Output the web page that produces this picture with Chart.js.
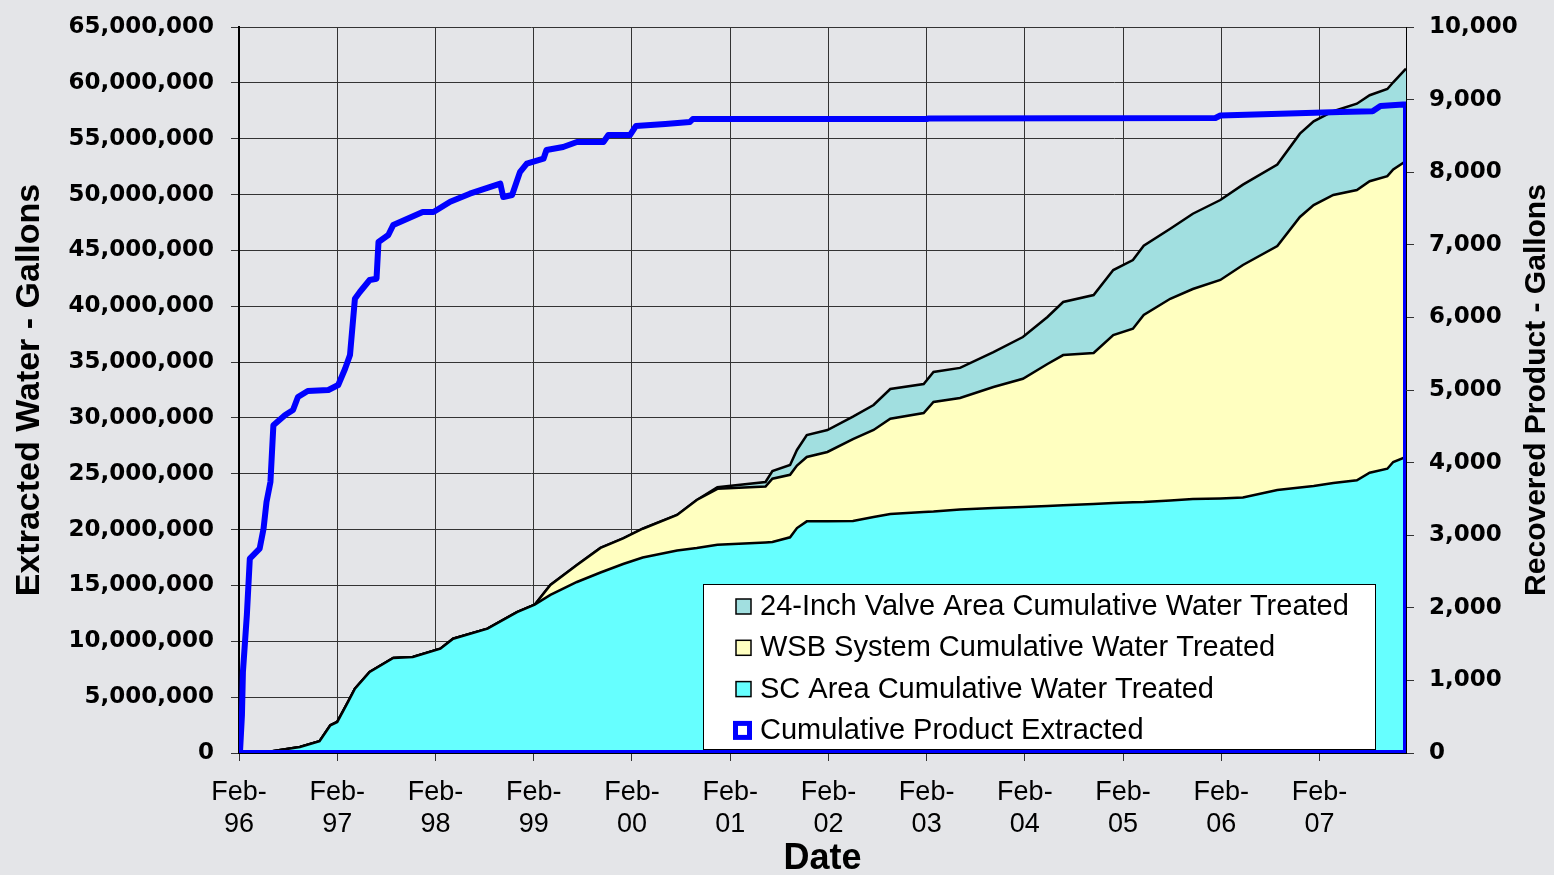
<!DOCTYPE html>
<html lang="en">
<head>
  <meta charset="UTF-8">
  <title>Extracted Water and Recovered Product</title>
  <script src="https://cdn.jsdelivr.net/npm/chart.js"></script>
  <style>
    body {
      margin: 0;
      background: #e4e5e8;
    }
    #wrap {
      width: 1554px;
      height: 875px;
    }
  </style>
</head>
<body>
<div id="wrap"><canvas id="chart" width="1554" height="875"></canvas></div>

<script>
  // Dates as decimal years (Feb-96 = 1996.08)
  const dates = [1996.08, 1996.37, 1996.70, 1996.90, 1997.01, 1997.08, 1997.19, 1997.26, 1997.41, 1997.65,
    1997.85, 1998.13, 1998.26, 1998.61, 1998.91, 1999.09, 1999.25, 1999.52, 1999.76, 1999.99,
    2000.19, 2000.54, 2000.74, 2000.95, 2001.44, 2001.51, 2001.69, 2001.76, 2001.86, 2002.07,
    2002.33, 2002.54, 2002.71, 2003.05, 2003.15, 2003.42, 2003.76, 2004.06, 2004.31, 2004.47,
    2004.78, 2004.98, 2005.18, 2005.29, 2005.56, 2005.79, 2006.07, 2006.30, 2006.65, 2006.88,
    2007.02, 2007.22, 2007.46, 2007.59, 2007.77, 2007.83, 2007.96];

  // cumulative water treated, millions of gallons
  const scArea = [0, 0.09, 0.54, 1.05, 2.48, 2.78, 4.57, 5.76, 7.25, 8.51,
    8.59, 9.34, 10.23, 11.13, 12.62, 13.28, 14.15, 15.31, 16.16, 16.92,
    17.50, 18.13, 18.35, 18.65, 18.85, 18.89, 19.31, 20.14, 20.74, 20.74,
    20.77, 21.13, 21.40, 21.58, 21.62, 21.80, 21.93, 22.02, 22.11, 22.18,
    22.29, 22.38, 22.45, 22.47, 22.61, 22.74, 22.79, 22.87, 23.55, 23.77,
    23.90, 24.17, 24.41, 25.09, 25.45, 26.05, 26.50];

  const wsbSystem = [0, 0, 0, 0, 0, 0, 0, 0, 0, 0,
    0, 0, 0, 0, 0, 0, 0.89, 1.52, 2.20, 2.30,
    2.58, 3.18, 4.30, 5.00, 5.00, 5.67, 5.60, 5.60, 5.76, 6.21,
    7.34, 7.79, 8.53, 8.86, 9.81, 9.98, 10.84, 11.49, 12.72, 13.45,
    13.52, 15.04, 15.54, 16.74, 18.06, 18.80, 19.56, 20.82, 21.84, 24.22,
    25.16, 25.79, 26.00, 26.10, 26.20, 26.20, 26.50];

  const valveArea = [0, 0, 0, 0, 0, 0, 0, 0, 0, 0,
    0, 0, 0, 0, 0, 0, 0, 0, 0, 0,
    0, 0, 0, 0.15, 0.41, 0.69, 0.87, 1.39, 1.97, 1.97,
    2.00, 2.24, 2.66, 2.60, 2.68, 2.70, 3.13, 3.73, 4.21, 4.75,
    5.19, 5.82, 6.15, 6.20, 6.27, 6.74, 7.16, 7.20, 7.30, 7.46,
    7.50, 7.50, 7.72, 7.70, 7.80, 7.80, 8.27];

  // cumulative product, gallons (line returns along the axis at the end)
  const productDates = [1996.08, 1996.09, 1996.11, 1996.12, 1996.16, 1996.19, 1996.29, 1996.33, 1996.36, 1996.40,
    1996.43, 1996.55, 1996.63, 1996.68, 1996.78, 1996.99, 1997.09, 1997.16, 1997.21, 1997.26,
    1997.31, 1997.41, 1997.48, 1997.50, 1997.60, 1997.65, 1997.95, 1998.06, 1998.23, 1998.43,
    1998.74, 1998.77, 1998.86, 1998.94, 1999.01, 1999.18, 1999.21, 1999.38, 1999.52, 1999.79,
    1999.84, 2000.06, 2000.12, 2000.42, 2000.67, 2000.70, 2003.08, 2003.10, 2006.02, 2006.07,
    2007.29, 2007.62, 2007.70, 2007.93, 2007.96, 2007.96, 1996.08];
  const productGallons = [0, 14, 523, 1116, 1901, 2676, 2814, 3090, 3457, 3733,
    4514, 4656, 4724, 4904, 4986, 5000, 5069, 5293, 5482, 6258,
    6350, 6515, 6533, 7039, 7135, 7273, 7451, 7451, 7594, 7704,
    7842, 7658, 7686, 8001, 8117, 8186, 8306, 8347, 8416, 8416,
    8512, 8512, 8636, 8664, 8691, 8733, 8733, 8740, 8747, 8781,
    8830, 8840, 8912, 8933, 8933, 0, 0];

  const febTicks = [1996.08, 1997.08, 1998.08, 1999.08, 2000.08, 2001.08,
    2002.08, 2003.08, 2004.08, 2005.08, 2006.08, 2007.08];

  const seriesNames = {
    valve: "24-Inch Valve Area Cumulative Water Treated",
    wsb: "WSB System Cumulative Water Treated",
    sc: "SC Area Cumulative Water Treated",
    product: "Cumulative Product Extracted"
  };
  const leftTitle = "Extracted Water - Gallons";
  const rightTitle = "Recovered Product - Gallons";
  const xTitle = "Date";

  const FONT = '"Liberation Sans", Arial, sans-serif';
  const GRID = '#333';

  function toPoints(xs, ys, k) {
    return xs.map((x, i) => ({ x, y: ys[i] * k }));
  }

  // fixed axis box sizes so the plot lands where the original one is
  function fixWidth(w) {
    return (scale) => {
      scale.width = w;
      scale.paddingTop = 0;
      scale.paddingBottom = 0;
    };
  }

  // custom legend box inside the plot (bottom right)
  const legendBox = {
    id: 'legendBox',
    afterDatasetsDraw(chart) {
      const { ctx, chartArea: ca } = chart;
      const w = 672, h = 165;
      const x = ca.right - 31 - w, y = ca.bottom - 4 - h;
      ctx.save();
      ctx.fillStyle = '#fff';
      ctx.fillRect(x, y, w, h);
      ctx.strokeStyle = '#000';
      ctx.lineWidth = 1;
      ctx.strokeRect(x + 0.5, y + 0.5, w, h);
      ctx.font = '29px ' + FONT;
      ctx.textBaseline = 'middle';
      const rows = [2, 1, 0, 3]; // dataset indexes in legend order
      rows.forEach((idx, i) => {
        const ds = chart.data.datasets[idx];
        const cy = y + 22 + i * 41.3;
        if (idx === 3) {
          ctx.fillStyle = '#0000ff';
          ctx.fillRect(x + 30, cy - 9, 19, 19);
          ctx.fillStyle = '#fff';
          ctx.fillRect(x + 35, cy - 4, 9, 9);
        } else {
          ctx.fillStyle = ds.backgroundColor;
          ctx.fillRect(x + 33, cy - 7, 15, 15);
          ctx.strokeStyle = '#000';
          ctx.lineWidth = 1.5;
          ctx.strokeRect(x + 33, cy - 7, 15, 15);
        }
        ctx.fillStyle = '#000';
        ctx.fillText(ds.label, x + 57, cy + 1);
      });
      ctx.restore();
    }
  };

  // right axis title reads bottom-to-top like the left one
  const rightAxisTitle = {
    id: 'rightAxisTitle',
    afterDraw(chart) {
      const { ctx, chartArea: ca } = chart;
      ctx.save();
      ctx.translate(chart.width - 17, (ca.top + ca.bottom) / 2);
      ctx.rotate(-Math.PI / 2);
      ctx.font = 'bold 30px ' + FONT;
      ctx.fillStyle = '#000';
      ctx.textAlign = 'center';
      ctx.textBaseline = 'middle';
      ctx.fillText(rightTitle, 0, 0);
      ctx.restore();
    }
  };

  const ctx = document.getElementById("chart").getContext("2d");
  new Chart(ctx, {
    type: "line",
    data: {
      datasets: [
        {
          label: seriesNames.sc,
          data: toPoints(dates, scArea, 1e6),
          yAxisID: 'y',
          fill: 'origin',
          backgroundColor: '#66ffff',
          borderColor: '#000',
          borderWidth: 2.5,
          order: 1
        },
        {
          label: seriesNames.wsb,
          data: toPoints(dates, wsbSystem, 1e6),
          yAxisID: 'y',
          fill: '-1',
          backgroundColor: '#ffffc0',
          borderColor: '#000',
          borderWidth: 2.5,
          order: 1
        },
        {
          label: seriesNames.valve,
          data: toPoints(dates, valveArea, 1e6),
          yAxisID: 'y',
          fill: '-1',
          backgroundColor: '#a1dfe0',
          borderColor: '#000',
          borderWidth: 2.5,
          order: 1
        },
        {
          label: seriesNames.product,
          data: toPoints(productDates, productGallons, 1),
          yAxisID: 'y2',
          fill: false,
          borderColor: '#0000ff',
          borderWidth: 6,
          borderJoinStyle: 'round',
          order: 0
        }
      ]
    },
    options: {
      responsive: false,
      animation: false,
      layout: { padding: { top: 27, left: 0, right: 0, bottom: 0 } },
      elements: { point: { radius: 0 }, line: { tension: 0 } },
      plugins: { legend: { display: false }, tooltip: { enabled: false } },
      scales: {
        x: {
          type: 'linear',
          min: 1996.08,
          max: 2007.96,
          afterBuildTicks: (scale) => { scale.ticks = febTicks.map(v => ({ value: v })); },
          afterFit: (scale) => {
            scale.height = 122;
            scale.paddingLeft = 0;
            scale.paddingRight = 0;
          },
          grid: { color: GRID, lineWidth: 1, tickLength: 8, tickColor: GRID },
          border: { color: '#000', width: 1 },
          ticks: {
            color: '#000',
            padding: 15,
            maxRotation: 0,
            autoSkip: false,
            font: { family: FONT, size: 27, lineHeight: 1.19 },
            callback: (v) => ["Feb-", String(Math.round(v - 0.08) % 100).padStart(2, '0')]
          },
          title: {
            display: true,
            text: xTitle,
            color: '#000',
            padding: { top: 0, bottom: 0 },
            font: { family: FONT, size: 36, weight: 'bold', lineHeight: 0.9 }
          }
        },
        y: {
          position: 'left',
          stacked: true,
          min: 0,
          max: 65000000,
          afterFit: fixWidth(239),
          grid: { color: GRID, lineWidth: 1, tickLength: 8, tickColor: GRID },
          border: { color: '#000', width: 2 },
          ticks: {
            stepSize: 5000000,
            color: '#000',
            padding: 17,
            font: { family: '"DejaVu Sans", sans-serif', size: 23, weight: 'bold' },
            callback: (v) => v.toLocaleString('en-US')
          },
          title: {
            display: true,
            text: leftTitle,
            color: '#000',
            padding: { top: 13, bottom: 0 },
            font: { family: FONT, size: 34, weight: 'bold', lineHeight: 1 }
          }
        },
        y2: {
          position: 'right',
          min: 0,
          max: 10000,
          afterFit: fixWidth(148),
          grid: { drawOnChartArea: false, tickLength: 8, tickColor: GRID },
          border: { color: '#000', width: 1 },
          ticks: {
            stepSize: 1000,
            color: '#000',
            padding: 15,
            font: { family: '"DejaVu Sans", sans-serif', size: 23, weight: 'bold' },
            callback: (v) => v.toLocaleString('en-US')
          }
        }
      }
    },
    plugins: [legendBox, rightAxisTitle]
  });
</script>
</body>
</html>
